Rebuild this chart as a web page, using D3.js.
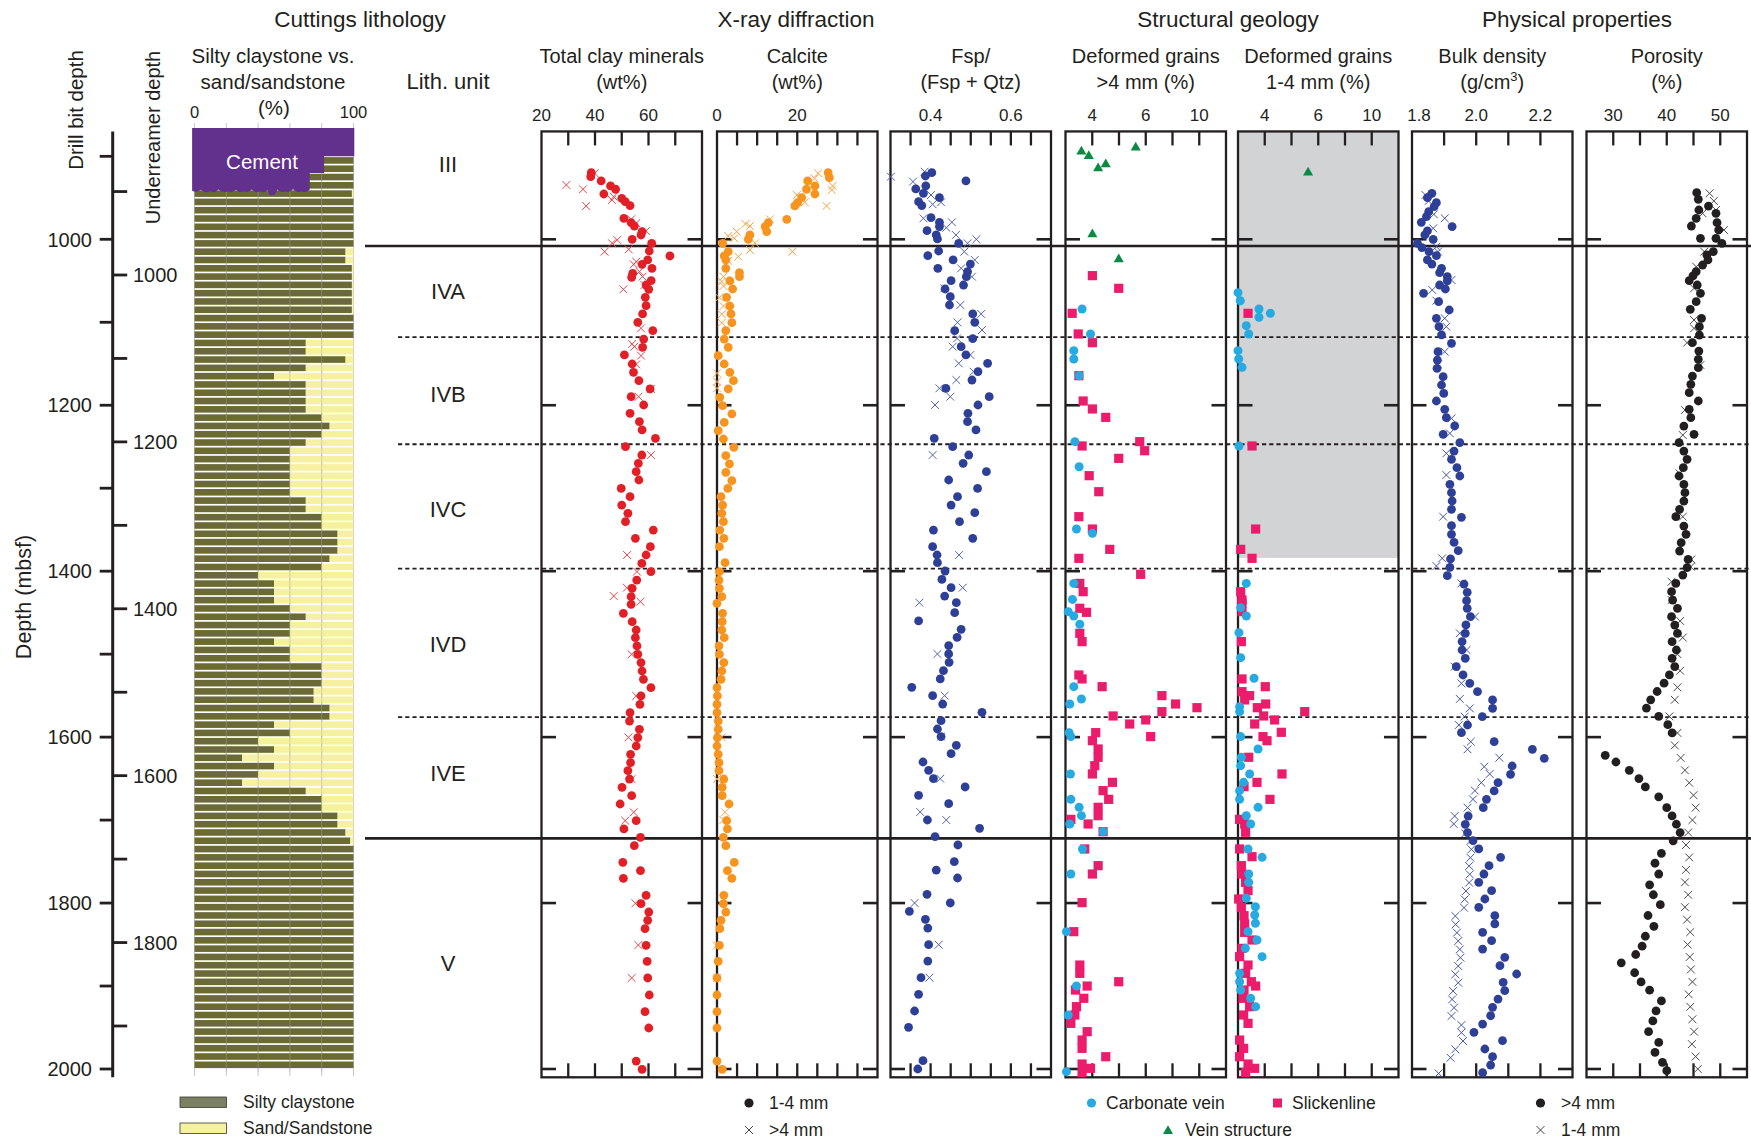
<!DOCTYPE html>
<html>
<head>
<meta charset="utf-8">
<title>Cuttings lithology, XRD, structural geology and physical properties</title>
<script src="https://d3js.org/d3.v7.min.js"></script>
<style>
  html, body { margin: 0; padding: 0; background: #fff; }
  svg { display: block; }
</style>
</head>
<body>
<svg id="chart" width="1751" height="1142"></svg>
<script>
// ---------------- data ----------------
// depth range of the logs (mbsf, drill bit depth)
const depthRange = [870, 2010];
const drillBitTicks = [900, 1000, 1100, 1200, 1300, 1400, 1500, 1600, 1700, 1800, 1900, 2000];
const drillBitLabels = [1000, 1200, 1400, 1600, 1800, 2000];
const underreamerTicks = [900, 1000, 1100, 1200, 1300, 1400, 1500, 1600, 1700, 1800, 1900];
const underreamerLabels = [1000, 1200, 1400, 1600, 1800];
const panelDepthTicks = [1000, 1200, 1400, 1600, 1800, 2000];

// lithologic units
const unitNames = ["III", "IVA", "IVB", "IVC", "IVD", "IVE", "V"];
const unitLabelDepths = [909, 1063, 1186, 1325, 1488, 1643, 1872];
const unitBoundaries = [1008, 1118, 1247, 1397, 1576, 1722];
const unitBoundaryStyle = ["solid", "dashed", "dashed", "dashed", "dashed", "solid"];

// cuttings: 10 m intervals, silty claystone percentage (remainder = sand/sandstone)
const cuttingsTop = 900;
const cuttingsStep = 10;
const claystonePct = [
  100, 100, 100, 100, 99, 100, 100, 100, 100, 100, 100, 95, 95, 99, 99,
  99, 99, 99, 99, 100, 100, 100,
  70, 70, 95, 70, 50, 70, 70, 70, 70,
  80, 85, 80, 70,
  60, 60, 60, 60, 60, 60,
  70, 70, 80, 80, 90, 90, 90, 85, 80,
  40, 50, 50, 50, 60, 70, 60, 60, 50, 60, 60,
  80, 80, 80, 75, 75, 85, 85, 50, 60, 40, 50, 30, 50, 40, 30, 70, 80, 80, 90, 90, 95, 98,
  100, 100, 100, 100, 100, 100, 100, 100, 100, 100, 100, 100, 100, 100, 100, 100, 100, 100,
  100, 100, 100, 100, 100, 100, 100, 100, 100
];
// cement filling the top of the hole: [depth, extent %]
const cementSteps = [[866, 100.5], [900, 81.5], [920, 72.5]];
const cementBase = [[72.5, 940], [67, 942], [62, 939.8], [57, 942], [52, 940], [49, 946], [46, 940.5], [41, 942.2], [36, 940], [31, 942], [26, 940.3], [21, 942], [15, 940], [10, 942.2], [4, 940.2], [-1.5, 941.5]];

// XRD: [depth, value]; fine = 1-4 mm cuttings, coarse = >4 mm cuttings
const clayFine = [[919.7,38.6],[924.5,38.4],[929.7,42.3],[935.7,45.8],[939.7,47.7],[945.4,43.3],[950.6,50.0],[954.6,51.3],[959.4,53.1],[974.7,50.8],[979.9,53.5],[984,54.7],[990.8,57.6],[994.8,57.2],[1000,53.9],[1004.8,61.2],[1014.1,60.3],[1020.1,68.0],[1024.9,59.7],[1030.2,57.6],[1035,61.3],[1041,54.1],[1045.8,53.7],[1049.9,61.0],[1055.1,59.1],[1060.3,60.1],[1069.9,58.8],[1080,59.1],[1090,57.8],[1100.1,56.0],[1110.1,61.6],[1120.2,58.2],[1130.2,57.8],[1139.4,51.0],[1150.3,53.9],[1160.3,54.4],[1170.4,56.4],[1180.4,60.6],[1189.7,53.5],[1199.7,58.2],[1209.8,53.1],[1219.8,56.6],[1229.8,57.6],[1239.9,62.6],[1249.9,51.4],[1260,57.5],[1270,56.2],[1280.1,55.4],[1290.1,56.4],[1300.2,49.8],[1310.2,53.1],[1320.3,50.0],[1330.3,52.3],[1340.3,51.4],[1350.4,61.8],[1360.4,55.1],[1370.5,60.7],[1380.5,59.1],[1390.6,57.5],[1400.6,60.9],[1410.7,55.6],[1420.7,53.9],[1430.7,53.5],[1440,53.5],[1450.8,50.6],[1460.8,53.9],[1470.9,55.4],[1480.1,55.1],[1490.1,55.7],[1500.2,56.0],[1510.2,57.2],[1520.3,57.6],[1530.3,58.1],[1540.4,60.9],[1550.4,57.2],[1560.5,56.8],[1570.5,53.1],[1580.6,52.9],[1590.6,56.6],[1600.6,56.0],[1610.7,55.4],[1620.7,53.3],[1630.8,53.3],[1640.4,52.3],[1650.5,52.9],[1660.5,50.1],[1670.6,53.7],[1680.6,49.4],[1700.7,55.4],[1710.7,50.8],[1720.8,57.0],[1730.8,54.7],[1750.9,50.4],[1761,57.0],[1770.2,50.6],[1790.7,59.1],[1800.7,57.2],[1810.8,60.1],[1820.8,59.7],[1830.9,58.7],[1851,59.1],[1870.3,59.5],[1890.3,59.7],[1910.8,60.3],[1930.9,58.7],[1950.6,60.1],[1990.4,55.4],[2000.4,57.6]];
const clayCoarse = [[934.5,29.3],[939.7,35.5],[959.8,36.7],[920.5,39.9],[952.6,46.3],[948.6,47.0],[975.9,53.5],[980.7,55.4],[990,59.1],[1000.8,48.3],[1004.8,46.4],[1014.9,43.6],[1012.1,52.6],[1027,55.4],[1030.2,54.5],[1039,56.6],[1045,57.8],[1055.1,58.5],[1060.3,50.6],[1107.3,57.2],[1126.2,53.9],[1129.4,54.7],[1140.2,57.2],[1150.7,55.4],[1189.7,56.3],[1180.4,60.9],[1260,60.9],[1380.5,52.0],[1400.6,55.7],[1419.9,51.9],[1430,47.0],[1436.8,57.0],[1500.2,53.7],[1550.4,55.4],[1600.3,52.5],[1650.5,53.7],[1690.6,54.5],[1700.7,51.3],[1800.3,55.1],[1850.6,56.2],[1890.3,53.7]];

const calciteFine = [[919.7,27.7],[925.7,28.0],[929.7,22.6],[935.7,24.4],[939.7,22.3],[945.4,24.4],[949.8,21.1],[955.8,20.1],[959.8,19.4],[975.9,17.4],[979.9,12.8],[984.7,12.0],[990.8,12.4],[994.8,8.2],[1000,7.8],[1004.8,1.4],[1014.9,2.8],[1020.1,1.8],[1024.9,2.2],[1035,2.2],[1040.2,5.6],[1045,5.6],[1050.2,3.2],[1059.9,3.9],[1069.9,2.4],[1080.4,3.2],[1090,3.5],[1100.5,3.7],[1110.1,2.2],[1120.2,1.8],[1130.2,2.8],[1140.3,0.3],[1150.3,1.8],[1160.3,3.2],[1170.4,4.1],[1180.4,2.8],[1190.5,0.7],[1200.5,1.4],[1210.5,3.7],[1220.6,1.8],[1230.7,0.3],[1240.7,1.6],[1250.7,4.2],[1260.8,2.2],[1270.8,3.1],[1280.9,2.2],[1290.9,3.7],[1300.2,2.7],[1310.2,1.0],[1320.3,1.4],[1330.3,1.2],[1340.3,1.6],[1350.4,0.7],[1360.4,1.7],[1370.5,0.6],[1389.8,2.0],[1400.6,0.6],[1410.7,0.5],[1420.7,0.6],[1430.7,1.2],[1438.8,0.0],[1450.8,1.4],[1460.8,1.3],[1470.9,1.2],[1480.1,1.8],[1490.1,0.5],[1500.2,0.6],[1510.2,1.7],[1520.3,1.2],[1530.3,1.0],[1540.4,0.0],[1550.4,0.1],[1560.5,0.0],[1570.5,0.0],[1580.6,0.3],[1590.6,0.3],[1600.6,0.1],[1610.7,0.0],[1620.7,0.3],[1630.8,0.5],[1640.4,0.5],[1650.5,1.7],[1660.5,1.3],[1670.6,1.3],[1680.6,3.0],[1700.7,2.4],[1710.7,2.6],[1720.8,1.6],[1730.8,2.2],[1750.9,4.3],[1761,2.6],[1770.2,3.7],[1790.7,1.7],[1800.7,1.6],[1810.8,2.2],[1820.8,1.0],[1830.9,0.7],[1851,0.6],[1870.3,0.3],[1890.3,0.0],[1910.8,0.0],[1930.9,0.0],[1950.6,0.0],[1990.4,0.0],[2000.4,1.3]];
const calciteCoarse = [[920.5,25.2],[926.5,24.3],[935.7,28.8],[940.6,28.6],[946.6,19.9],[955.4,21.9],[959.8,27.3],[975.9,13.2],[981.5,7.1],[984,8.2],[990.8,4.9],[996,2.8],[998.8,4.3],[1004.8,9.5],[1012.9,8.2],[1014.9,18.8],[1020.9,5.3],[1026.1,2.8],[1045,1.6],[1051,1.2],[1056.3,1.6],[1070.3,0.6],[1080.4,1.6],[1090.4,1.2],[1100.5,1.2],[1161.5,0.0],[1171.6,0.0],[1179.6,0.0],[1600.3,1.2],[1650.5,0.0],[1690.6,2.0],[1699.9,1.6],[1851,0.0],[1890.3,0.0]];

const fspFine = [[919.7,0.403],[923.7,0.387],[929.7,0.488],[935.7,0.388],[939.3,0.363],[944.6,0.382],[949.8,0.422],[954.6,0.370],[959.4,0.378],[973.9,0.401],[979.5,0.422],[984.7,0.422],[989.6,0.391],[994.8,0.414],[999.6,0.417],[1004.8,0.470],[1014.1,0.420],[1019.7,0.393],[1024.9,0.456],[1029.8,0.499],[1035,0.418],[1039,0.492],[1045,0.489],[1049.9,0.451],[1055.1,0.482],[1059.9,0.436],[1069.1,0.449],[1079.2,0.447],[1090,0.505],[1100.1,0.510],[1110.1,0.460],[1119.8,0.505],[1129.4,0.476],[1139.4,0.488],[1149.5,0.542],[1159.5,0.518],[1169.6,0.503],[1179.6,0.438],[1189.7,0.546],[1199.7,0.518],[1209.8,0.493],[1219.8,0.492],[1229.8,0.513],[1239.9,0.409],[1249.9,0.455],[1260,0.495],[1270,0.481],[1280.1,0.539],[1290.1,0.445],[1300.2,0.517],[1310.2,0.467],[1320.3,0.451],[1329.5,0.510],[1340.3,0.472],[1350.4,0.407],[1360.4,0.505],[1370.5,0.405],[1380.5,0.416],[1389.8,0.417],[1399.8,0.436],[1409.9,0.428],[1419.9,0.451],[1430,0.435],[1438,0.464],[1450,0.460],[1460,0.370],[1470.1,0.476],[1479.7,0.466],[1489.7,0.445],[1499.8,0.445],[1509.8,0.446],[1519.9,0.432],[1529.9,0.424],[1540,0.353],[1550,0.405],[1560.1,0.430],[1570.1,0.528],[1580.2,0.426],[1590.2,0.417],[1599.4,0.426],[1609.9,0.464],[1619.9,0.451],[1630,0.381],[1640,0.395],[1650.1,0.407],[1660.1,0.486],[1670.2,0.370],[1680.2,0.445],[1699.9,0.392],[1709.9,0.522],[1720,0.411],[1730,0.468],[1750.1,0.459],[1760.2,0.414],[1769.8,0.467],[1789.5,0.391],[1799.9,0.449],[1810,0.347],[1819.6,0.387],[1830.1,0.393],[1850.2,0.395],[1869.9,0.393],[1889.9,0.376],[1910,0.370],[1930.1,0.360],[1949.8,0.345],[1990,0.381],[2000,0.368]];
const fspCoarse = [[924.5,0.301],[930.5,0.356],[918.5,0.385],[946.6,0.401],[957.8,0.405],[955.4,0.426],[974.7,0.382],[986,0.439],[979.5,0.453],[994.8,0.463],[1004.8,0.492],[1000,0.514],[1014.9,0.484],[1024.9,0.510],[1035,0.476],[1045,0.503],[1059.1,0.434],[1079.2,0.474],[1090,0.526],[1100.1,0.467],[1109.3,0.528],[1119.4,0.466],[1129.4,0.455],[1139.4,0.499],[1149.5,0.470],[1159.5,0.507],[1169.6,0.464],[1179.6,0.422],[1189.7,0.449],[1199.7,0.411],[1260,0.405],[1380.5,0.471],[1419.9,0.480],[1438,0.372],[1499.8,0.417],[1550,0.435],[1599.4,0.426],[1650.1,0.424],[1690.2,0.374],[1699.9,0.439],[1799.9,0.360],[1850.2,0.420],[1889.9,0.397]];

// structural geology: deformed grains [depth, value]
const veinLarge = [[894.3,1.19],[899.6,1.74],[889.5,5.25],[909.6,3.01],[914.4,2.44],[994,2.01],[1024.1,3.98]];
const veinSmall = [[919.7,5.24]];
const carbonateLarge = [[1084,1.24],[1114.1,1.87],[1134.2,0.62],[1144.3,0.62],[1164.4,1.02],[1243.9,0.70],[1274.1,1.02],[1349.2,0.82],[1354.4,2.01],[1414.7,0.62],[1434,0.52],[1448.8,0.20],[1454,0.62],[1464,1.07],[1539.2,0.62],[1554,1.19],[1560.1,0.32],[1594.6,0.27],[1599.4,0.40],[1644.4,0.37],[1675,0.40],[1684.6,1.02],[1694.7,1.19],[1704.7,0.32],[1714,2.81],[1734.8,1.27],[1765,0.40],[1834.5,0.07],[1900,0.82],[1934.9,0.20],[2003.2,0.07]];
const slickenLarge = [[1043.8,2.01],[1059.1,3.98],[1089.2,0.50],[1114.1,0.95],[1124.6,2.01],[1164.4,1.0],[1194.9,1.32],[1204.5,2.01],[1214.6,3.01],[1243.9,5.55],[1249.1,1.24],[1254.8,5.92],[1264,3.98],[1284.9,1.77],[1304.2,2.49],[1334.3,1.0],[1349.2,2.01],[1373.7,3.31],[1384.5,1.0],[1403.8,5.62],[1414.7,1.07],[1424.7,1.32],[1444.7,1.07],[1449.6,1.57],[1474.9,1.07],[1484.9,1.24],[1525.1,1.0],[1529.9,1.24],[1539.2,2.74],[1550,7.21],[1560.1,8.23],[1564.5,9.83],[1569.3,7.21],[1574.5,3.56],[1584.2,4.80],[1579.3,6.00],[1599.4,6.37],[1594.6,2.26],[1604.3,2.01],[1614.3,2.44],[1624.3,2.44],[1634.4,2.19],[1644.4,2.01],[1654.5,3.51],[1664.5,2.81],[1675,3.23],[1684.6,2.44],[1694.7,2.44],[1699.1,0.40],[1704.7,1.69],[1714,2.81],[1734.8,1.44],[1754.9,2.44],[1765,2.01],[1799.5,1.24],[1834.5,0.62],[1874.7,1.07],[1884.7,1.07],[1894.8,3.98],[1900,1.62],[1904.8,0.75],[1914.8,1.37],[1924.9,0.82],[1934.9,0.70],[1945,0.40],[1955,1.62],[1965.1,1.24],[1975.1,1.24],[1985.2,3.01],[1994,1.24],[1999.2,1.87],[2004.4,1.24]];
const carbonateSmall = [[1064.3,0],[1074,0.17],[1084,1.57],[1089.2,2.42],[1094,1.57],[1104.1,0.62],[1114.1,0.80],[1134.2,0],[1144.3,0.05],[1154.3,0.30],[1249.1,0.07],[1414.7,0.62],[1444,0.2],[1454,0.62],[1474.1,0.07],[1504.2,0.2],[1529.1,1.2],[1563.3,0.12],[1569.3,0.12],[1599.4,0.2],[1614.3,1.5],[1624.3,0.25],[1634.4,0.2],[1644.4,0.87],[1654.5,0.42],[1664.5,0.12],[1675,0.12],[1684.6,1.5],[1694.7,0.62],[1704.7,0.95],[1734.8,0.75],[1744.9,1.8],[1765,0.8],[1775,0.8],[1794.3,0.62],[1804.4,1.3],[1814.4,1.25],[1824.4,1.3],[1834.5,0.75],[1844.5,1.42],[1854.6,0.55],[1864.6,1.8],[1884.7,0.12],[1894.8,0.12],[1904.8,0.2],[1914.8,0.95],[1924.9,1.32]];
const slickenSmall = [[1089.2,0.75],[1249.1,1.05],[1349.2,1.32],[1373.7,0.20],[1384.5,1.05],[1424.7,0.20],[1434.7,0.30],[1438.7,0.3],[1448.8,0.3],[1484.9,0.25],[1529.9,0.3],[1539.2,2.04],[1545.2,0.3],[1550,0.87],[1555.2,0.5],[1560.1,2.07],[1564.5,1.45],[1569.3,4.99],[1574.5,1.92],[1579.3,2.74],[1584.2,1.25],[1594.2,3.24],[1599.4,1.87],[1604.3,2.17],[1624.3,0.8],[1644.4,3.29],[1654.5,1.42],[1659.7,0.45],[1675,2.39],[1699.1,0.12],[1704.7,0.5],[1714.7,0.57],[1734.8,0.12],[1744.1,1.05],[1754.9,0.25],[1765,0.3],[1775,0.57],[1785.1,0.75],[1795.1,0.05],[1805.2,0.25],[1815.2,0.45],[1825.2,0.5],[1835.3,0.5],[1844.5,1.05],[1854.6,0.3],[1864.6,0.12],[1874.7,0.75],[1884.7,0.57],[1894.8,1.0],[1900,1.32],[1904.8,0.45],[1914.8,0.37],[1924.9,0.87],[1934.9,0.42],[1945,0.75],[1965.1,0.12],[1975.1,0.42],[1985.2,0.12],[1994,0.75],[1999.2,1.25],[2004.4,0.57]];
// no 1-4 mm structural observations above this depth
const smallGrainGap = [870, 1384];

// physical properties: coarse = >4 mm cuttings, fine = 1-4 mm cuttings
const densityCoarse = [[944.6,1.862],[949.8,1.848],[955.8,1.876],[960.6,1.869],[966.7,1.852],[972.7,1.845],[979.5,1.829],[984.7,1.925],[989.9,1.848],[994.8,1.840],[1000,1.866],[1004.8,1.817],[1010.1,1.831],[1014.9,1.853],[1019.7,1.876],[1024.9,1.848],[1029.8,1.862],[1035,1.892],[1040.2,1.886],[1045,1.910],[1050.2,1.910],[1055.1,1.886],[1059.9,1.904],[1065.1,1.836],[1075.2,1.883],[1085.2,1.916],[1095.2,1.876],[1105.3,1.884],[1115.3,1.892],[1125.4,1.923],[1135.4,1.881],[1145.5,1.879],[1155.5,1.878],[1165.6,1.897],[1175.6,1.892],[1185.7,1.899],[1194.9,1.876],[1204.9,1.902],[1215,1.907],[1225,1.933],[1235.1,1.897],[1245.1,1.949],[1255.2,1.931],[1265.2,1.923],[1275.3,1.940],[1285.3,1.949],[1295.3,1.918],[1305.4,1.923],[1315.4,1.925],[1325.5,1.923],[1335.1,1.954],[1345.2,1.923],[1355.6,1.923],[1365.3,1.931],[1375.3,1.944],[1385.3,1.920],[1395.4,1.918],[1405.4,1.910],[1415.5,1.962],[1425.5,1.972],[1435.6,1.970],[1444.7,1.972],[1454.8,1.982],[1464.8,1.968],[1474.9,1.966],[1484.9,1.956],[1495,1.956],[1505,1.966],[1515.1,1.938],[1525.1,1.959],[1535.2,1.980],[1545.2,2.004],[1555.2,2.051],[1565.3,2.051],[1575.3,2.019],[1585.4,1.973],[1594.6,1.954],[1605.5,2.056],[1614.7,2.175],[1625.6,2.212],[1634.8,2.112],[1644.8,2.107],[1654.9,2.068],[1664.9,2.056],[1675,2.032],[1685,2.022],[1695.1,1.975],[1705.1,1.966],[1715.2,1.973],[1724.8,1.990],[1734.8,2.008],[1744.9,2.076],[1754.9,2.040],[1765,2.024],[1775,2.008],[1785.1,2.048],[1795.1,2.027],[1805.2,2.008],[1815.2,2.058],[1825.2,2.058],[1835.3,2.020],[1845.3,2.048],[1855.4,2.020],[1865.4,2.089],[1875.5,2.074],[1885.5,2.126],[1895.6,2.084],[1905.6,2.089],[1915.7,2.068],[1925.7,2.051],[1935.8,2.045],[1945.8,2.020],[1955.8,1.993],[1965.9,2.082],[1975.9,2.027],[1985.2,2.051],[1995.2,2.045],[2004.5,2.020]];
const densityFine = [[946.6,1.842],[953.8,1.852],[969.9,1.868],[974.7,1.902],[986.8,1.866],[1008.9,1.876],[1014.9,1.881],[1049,1.923],[1061.1,1.863],[1074,1.876],[1095.2,1.902],[1105.3,1.907],[1135.4,1.902],[1150.7,1.881],[1215.8,1.923],[1233.9,1.918],[1258,1.907],[1284.1,1.907],[1334.3,1.897],[1384.5,1.894],[1393.8,1.876],[1414.7,1.954],[1454.8,1.996],[1474.9,1.949],[1495,1.970],[1515.1,1.933],[1535.2,1.954],[1554,1.949],[1565.3,1.980],[1575.3,1.964],[1585.4,1.946],[1605.5,1.983],[1614.7,1.973],[1624.8,2.072],[1635.6,2.025],[1644.4,2.042],[1654.9,2.016],[1664.5,1.996],[1675,1.990],[1685,1.973],[1695.1,1.933],[1704.7,1.930],[1716,1.966],[1725.2,1.982],[1735.2,1.985],[1745.3,1.982],[1755.3,1.978],[1765.4,1.980],[1775.4,1.978],[1785.5,1.968],[1795.5,1.964],[1805.6,1.962],[1815.6,1.935],[1825.7,1.936],[1835.7,1.940],[1845.7,1.944],[1855.8,1.949],[1865.8,1.951],[1875.9,1.944],[1885.9,1.935],[1896,1.944],[1906,1.928],[1916.1,1.925],[1926.1,1.931],[1936.2,1.923],[1947,1.954],[1956.2,1.954],[1966.3,1.959],[1976.3,1.935],[1986.4,1.920],[2005.3,1.883]];

const porosityCoarse = [[943.8,45.6],[951.8,45.9],[964.7,46.0],[959.9,47.8],[968.7,49.2],[974.7,45.5],[984,44.6],[980,49.4],[988.8,49.7],[998.8,46.3],[998.8,49.2],[1004.9,50.3],[1014.9,48.7],[1018.9,47.5],[1024.9,47.7],[1031,46.7],[1039,45.5],[1044.2,44.9],[1049.9,44.2],[1055.1,45.7],[1065.1,46.3],[1075.2,45.5],[1084.4,44.4],[1095.3,46.5],[1105.3,46.1],[1115.4,46.1],[1124.6,44.8],[1134.7,46.0],[1144.7,45.9],[1154.7,45.9],[1164.8,44.8],[1174.8,44.5],[1184.9,44.2],[1194.9,45.9],[1205,44.2],[1215,44.5],[1225.1,43.2],[1235.1,45.1],[1245.1,42.3],[1255.2,43.2],[1265.2,43.8],[1275.3,43.1],[1285.3,42.3],[1295.4,43.2],[1305.4,43.4],[1315.5,43.2],[1325.5,42.4],[1334.3,41.7],[1345.6,43.2],[1355.6,43.6],[1365.7,42.7],[1375.7,42.4],[1385.8,44.0],[1395.8,43.8],[1404.7,43.0],[1414.7,41.7],[1424.7,40.9],[1434.8,41.1],[1444.8,42.0],[1454.9,40.9],[1465,41.5],[1475,42.0],[1485,41.0],[1495,41.8],[1505,41.0],[1515,41.5],[1525,40.5],[1535,39.5],[1545,38.2],[1555,37.0],[1565,36.2],[1575,38.5],[1585,40.2],[1595,41.0],[1622,28.5],[1630,30.5],[1640,33.0],[1650,34.8],[1660,36.0],[1672,38.5],[1685,40.0],[1695,41.0],[1705,41.8],[1715,42.5],[1725,41.2],[1740,39.0],[1752,37.8],[1765,38.5],[1778,36.8],[1790,37.5],[1802,38.8],[1815,36.5],[1828,37.6],[1840,36.0],[1852,35.4],[1862,34.2],[1872,31.5],[1884,34.0],[1895,35.2],[1905,36.8],[1918,39.0],[1930,38.0],[1942,37.4],[1955,36.6],[1968,38.5],[1980,37.8],[1992,39.2],[2002,40.0]];
const porosityFine = [[944.6,48.0],[953.8,48.8],[968.7,46.7],[964.7,49.2],[988.8,50.7],[1014.9,47.0],[1033,45.5],[1059.1,45.1],[1097.3,45.1],[1107.3,45.1],[1124.6,43.8],[1151.5,46.3],[1205.8,43.4],[1235.9,43.0],[1282.1,42.4],[1334.3,43.0],[1385.8,44.6],[1394.6,44.5],[1412.7,40.9],[1434.8,40.9],[1460,42.5],[1480,43.0],[1500,42.0],[1520,42.5],[1540,42.0],[1555,41.5],[1575,40.5],[1595,42.0],[1610,41.5],[1625,42.6],[1640,43.4],[1655,44.2],[1670,45.0],[1685,45.4],[1700,44.8],[1715,44.0],[1730,43.6],[1745,44.2],[1760,43.6],[1775,43.4],[1790,44.0],[1805,43.4],[1820,43.8],[1835,44.4],[1850,43.9],[1865,44.3],[1880,44.5],[1895,44.8],[1910,44.1],[1925,44.4],[1940,44.8],[1955,45.1],[1970,44.7],[1985,45.4],[2000,45.8]];

// axis settings of the log panels
const clayDomain = [20, 80], clayTicks = [30, 40, 50, 60, 70], clayTickLabels = [20, 40, 60];
const calciteDomain = [0, 40], calciteTicks = [5, 10, 15, 20, 25, 30, 35], calciteTickLabels = [0, 20];
const fspDomain = [0.3, 0.7], fspTicks = [0.35, 0.4, 0.45, 0.5, 0.55, 0.6, 0.65], fspTickLabels = [0.4, 0.6];
const deformDomain = [0, 12], deformTicks = [2, 4, 6, 8, 10], deformLabelAt = [2, 6, 10], deformLabelText = ["4", "6", "10"];
const densityDomain = [1.8, 2.3], densityTicks = [1.9, 2.0, 2.1, 2.2], densityTickLabels = [1.8, 2.0, 2.2];
const porosityDomain = [25, 55], porosityTicks = [30, 35, 40, 45, 50], porosityTickLabels = [30, 40, 50];
const lithPctDomain = [0, 100], lithGrid = [0, 20, 40, 60, 80, 100], lithTickLabels = [0, 100];

const groupTitles = ["Cuttings lithology", "X-ray diffraction", "Structural geology", "Physical properties"];

// ---------------- drawing ----------------
const svg = d3.select("#chart");
const FONT = "'Liberation Sans', Arial, Helvetica, sans-serif";
const INK = "#231f20";
const C = {
  clay: "#e11f26", calcite: "#f7941d", fsp: "#2e3f98", density: "#2e3f98",
  porosity: "#231f20", carbonate: "#27aae1", slicken: "#ec1c6c", vein: "#0b8a43",
  claystone: "#6b6a36", sand: "#f6f1a1", cement: "#62308d", shade: "#d1d3d4"
};

const yDepth = d3.scaleLinear().domain([1000, 2000]).range([239.3, 1069]);
const yUnder = d3.scaleLinear().domain([1000, 1900]).range([275, 1026]);
const Y0 = yDepth(depthRange[0]), Y1 = yDepth(depthRange[1]);

function label(g, x, y, str, size, anchor, extra) {
  const t = g.append("text").attr("x", x).attr("y", y).attr("font-family", FONT)
    .attr("font-size", size).attr("text-anchor", anchor || "middle").attr("fill", INK).text(str);
  if (extra) extra(t);
  return t;
}

// ---- group titles
const titleX = [360, 796, 1228, 1577];
groupTitles.forEach((s, i) => label(svg, titleX[i], 27, s, 22.5));

// ---- depth axes (drill bit + underreamer)
const axisX = 112.7;
const axG = svg.append("g").attr("stroke", INK);
axG.append("line").attr("x1", axisX).attr("x2", axisX).attr("y1", Y0).attr("y2", Y1).attr("stroke-width", 3);
drillBitTicks.forEach(d => axG.append("line").attr("x1", axisX - 13).attr("x2", axisX)
  .attr("y1", yDepth(d)).attr("y2", yDepth(d)).attr("stroke-width", 2.8));
underreamerTicks.forEach(d => axG.append("line").attr("x1", axisX).attr("x2", axisX + 14.5)
  .attr("y1", yUnder(d)).attr("y2", yUnder(d)).attr("stroke-width", 2.8));
drillBitLabels.forEach(d => label(svg, 92, yDepth(d), d, 20, "end", t => t.attr("dy", "0.36em")));
underreamerLabels.forEach(d => label(svg, 133, yUnder(d), d, 20, "start", t => t.attr("dy", "0.36em")));

function vlabel(cx, cy, str, size) {
  svg.append("text").attr("transform", `translate(${cx},${cy}) rotate(-90)`)
    .attr("font-family", FONT).attr("font-size", size).attr("text-anchor", "middle")
    .attr("dy", "0.36em").attr("fill", INK).text(str);
}
vlabel(23, 597, "Depth (mbsf)", 21.5);
vlabel(76, 110, "Drill bit depth", 20.5);
vlabel(152.5, 137.5, "Underreamer depth", 20);

// ---- cuttings lithology column
const lithX = d3.scaleLinear().domain(lithPctDomain).range([194.5, 353.5]);
const lithG = svg.append("g");
lithGrid.forEach(v => lithG.append("line").attr("x1", lithX(v)).attr("x2", lithX(v))
  .attr("y1", 123).attr("y2", 1076).attr("stroke", "#c6c6c6").attr("stroke-width", 1));
const cuttings = claystonePct.map((p, i) => ({ top: cuttingsTop + i * cuttingsStep, clay: p }));
lithG.selectAll("rect.cl").data(cuttings).join("rect").attr("class", "cl")
  .attr("x", lithX(0)).attr("width", d => lithX(d.clay) - lithX(0))
  .attr("y", d => yDepth(d.top) + 0.8).attr("height", d => yDepth(d.top + cuttingsStep) - yDepth(d.top) - 1.7)
  .attr("fill", C.claystone);
lithG.selectAll("rect.sd").data(cuttings.filter(d => d.clay < 100)).join("rect").attr("class", "sd")
  .attr("x", d => lithX(d.clay)).attr("width", d => lithX(100) - lithX(d.clay))
  .attr("y", d => yDepth(d.top) + 0.8).attr("height", d => yDepth(d.top + cuttingsStep) - yDepth(d.top) - 1.7)
  .attr("fill", C.sand);
lithGrid.slice(1, 5).forEach(v => lithG.append("line").attr("x1", lithX(v)).attr("x2", lithX(v))
  .attr("y1", yDepth(cuttingsTop)).attr("y2", 1072).attr("stroke", "#a9a9a0").attr("stroke-opacity", 0.45).attr("stroke-width", 1));

// cement plug
{
  const p = d3.path();
  p.moveTo(lithX(-1.5), yDepth(cementSteps[0][0]));
  p.lineTo(lithX(cementSteps[0][1]), yDepth(cementSteps[0][0]));
  for (let i = 1; i < cementSteps.length; i++) {
    p.lineTo(lithX(cementSteps[i - 1][1]), yDepth(cementSteps[i][0]));
    p.lineTo(lithX(cementSteps[i][1]), yDepth(cementSteps[i][0]));
  }
  const edge = cementBase.map(([v, d]) => [lithX(v), yDepth(d)]);
  p.lineTo(edge[0][0], edge[0][1]);
  for (let i = 1; i < edge.length; i++) {
    const mx = (edge[i - 1][0] + edge[i][0]) / 2;
    p.quadraticCurveTo(mx, Math.max(edge[i - 1][1], edge[i][1]) + 2.5, edge[i][0], edge[i][1]);
  }
  p.closePath();
  lithG.append("path").attr("d", p.toString()).attr("fill", C.cement);
  label(lithG, 262, 168.5, "Cement", 20.5, "middle", t => t.attr("fill", "#fff"));
}
label(svg, 273, 63, "Silty claystone vs.", 20.5);
label(svg, 273, 89, "sand/sandstone", 20.5);
label(svg, 274, 115, "(%)", 20.5);
lithTickLabels.forEach(v => label(svg, lithX(v), 118, v, 16.5));

// ---- lith. unit labels and boundaries
label(svg, 448, 89, "Lith. unit", 22);
unitNames.forEach((u, i) => label(svg, 448, yDepth(unitLabelDepths[i]), u, 22, "middle", t => t.attr("dy", "0.36em")));

// ---- log panels
const PW = 160.5;
const panels = [
  { id: "clay", left: 541.5, domain: clayDomain, ticks: clayTicks, labels: clayTickLabels.map(v => [v, String(v)]), title: ["Total clay minerals", "(wt%)"] },
  { id: "calcite", left: 717, domain: calciteDomain, ticks: calciteTicks, labels: calciteTickLabels.map(v => [v, String(v)]), title: ["Calcite", "(wt%)"] },
  { id: "fsp", left: 890.5, domain: fspDomain, ticks: fspTicks, labels: fspTickLabels.map(v => [v, d3.format(".1f")(v)]), title: ["Fsp/", "(Fsp + Qtz)"] },
  { id: "defL", left: 1065.5, domain: deformDomain, ticks: deformTicks, labels: deformLabelAt.map((v, i) => [v, deformLabelText[i]]), title: ["Deformed grains", ">4 mm (%)"] },
  { id: "defS", left: 1238, domain: deformDomain, ticks: deformTicks, labels: deformLabelAt.map((v, i) => [v, deformLabelText[i]]), title: ["Deformed grains", "1-4 mm (%)"], shade: smallGrainGap },
  { id: "dens", left: 1412, domain: densityDomain, ticks: densityTicks, labels: densityTickLabels.map(v => [v, d3.format(".1f")(v)]), title: ["Bulk density", "(g/cm3)"] },
  { id: "poro", left: 1586.5, domain: porosityDomain, ticks: porosityTicks, labels: porosityTickLabels.map(v => [v, String(v)]), title: ["Porosity", "(%)"] }
];
const X = {};
panels.forEach(p => { X[p.id] = d3.scaleLinear().domain(p.domain).range([p.left, p.left + PW]); });

// shading behind 1-4 mm structural data
panels.filter(p => p.shade).forEach(p => {
  svg.append("rect").attr("x", p.left).attr("y", yDepth(p.shade[0])).attr("width", PW)
    .attr("height", yDepth(p.shade[1]) - yDepth(p.shade[0])).attr("fill", C.shade);
});

// unit boundary lines
const bndG = svg.append("g");
unitBoundaries.forEach((d, i) => {
  const solid = unitBoundaryStyle[i] === "solid";
  bndG.append("line").attr("x1", solid ? 365 : 398).attr("x2", 1751)
    .attr("y1", yDepth(d)).attr("y2", yDepth(d)).attr("stroke", INK)
    .attr("stroke-width", solid ? 2.6 : 1.8).attr("stroke-dasharray", solid ? null : "4.2,3");
});

// frames, ticks, headers
panels.forEach(p => {
  const x = X[p.id];
  const g = svg.append("g").attr("stroke", INK).attr("fill", "none");
  g.append("rect").attr("x", p.left).attr("y", Y0).attr("width", PW).attr("height", Y1 - Y0).attr("stroke-width", 2.3);
  p.ticks.forEach(t => {
    g.append("line").attr("x1", x(t)).attr("x2", x(t)).attr("y1", Y0).attr("y2", Y0 + 14).attr("stroke-width", 2.3);
    g.append("line").attr("x1", x(t)).attr("x2", x(t)).attr("y1", Y1).attr("y2", Y1 - 14).attr("stroke-width", 2.3);
  });
  panelDepthTicks.forEach(d => {
    g.append("line").attr("x1", p.left).attr("x2", p.left + 14.5).attr("y1", yDepth(d)).attr("y2", yDepth(d)).attr("stroke-width", 2.6);
    g.append("line").attr("x1", p.left + PW - 14.5).attr("x2", p.left + PW).attr("y1", yDepth(d)).attr("y2", yDepth(d)).attr("stroke-width", 2.6);
  });
  p.labels.forEach(([v, s]) => {
    const dx = (p.id === "dens" && v === p.domain[0]) ? 7 : 0;
    label(svg, x(v) + dx, 121, s, 17);
  });
  const cx = p.left + PW / 2;
  label(svg, cx, 63, p.title[0], 20);
  if (p.id === "dens") {
    label(svg, cx, 89, "(g/cm", 20, "middle", t => {
      t.text("(g/cm");
      t.append("tspan").attr("dy", -8).attr("font-size", 13).text("3");
      t.append("tspan").attr("dy", 8).text(")");
    });
  } else {
    label(svg, cx, 89, p.title[1], 20);
  }
});

// ---- markers
const markG = svg.append("g");
function dots(data, x, color, r) {
  markG.append("g").selectAll("circle").data(data).join("circle")
    .attr("cx", d => x(d[1])).attr("cy", d => yDepth(d[0])).attr("r", r || 4.4).attr("fill", color);
}
function crosses(data, x, color, a) {
  const s = a || 3.9;
  markG.append("g").selectAll("path").data(data).join("path")
    .attr("transform", d => `translate(${x(d[1])},${yDepth(d[0])})`)
    .attr("d", `M${-s},${-s}L${s},${s}M${-s},${s}L${s},${-s}`)
    .attr("stroke", color).attr("stroke-width", 1).attr("fill", "none");
}
function squares(data, x, color) {
  markG.append("g").selectAll("rect").data(data).join("rect")
    .attr("x", d => x(d[1]) - 4.6).attr("y", d => yDepth(d[0]) - 4.6)
    .attr("width", 9.2).attr("height", 9.2).attr("fill", color);
}
const tri = d3.symbol(d3.symbolTriangle, 44)();
function triangles(data, x, color) {
  markG.append("g").selectAll("path").data(data).join("path")
    .attr("transform", d => `translate(${x(d[1])},${yDepth(d[0])})`)
    .attr("d", tri).attr("fill", color);
}

crosses(clayCoarse, X.clay, "#e5434b");
dots(clayFine, X.clay, C.clay);
crosses(calciteCoarse, X.calcite, "#f7a043");
dots(calciteFine, X.calcite, C.calcite);
crosses(fspCoarse, X.fsp, "#5262ae");
dots(fspFine, X.fsp, C.fsp);

triangles(veinLarge, X.defL, C.vein);
squares(slickenLarge, X.defL, C.slicken);
dots(carbonateLarge, X.defL, C.carbonate, 4.5);
triangles(veinSmall, X.defS, C.vein);
squares(slickenSmall, X.defS, C.slicken);
dots(carbonateSmall, X.defS, C.carbonate, 4.5);

crosses(densityFine, X.dens, "#4656a9");
dots(densityCoarse, X.dens, C.density);
crosses(porosityFine, X.poro, "#4a4a4a");
dots(porosityCoarse, X.poro, C.porosity);

// ---- legends
const lg = svg.append("g");
lg.append("rect").attr("x", 180).attr("y", 1097).attr("width", 46.5).attr("height", 10.5)
  .attr("fill", "#7b8062").attr("stroke", "#3a3a30").attr("stroke-width", 0.8);
lg.append("rect").attr("x", 180).attr("y", 1123).attr("width", 46.5).attr("height", 10.5)
  .attr("fill", C.sand).attr("stroke", "#3a3a30").attr("stroke-width", 0.8);
label(lg, 243, 1102, "Silty claystone", 17.5, "start", t => t.attr("dy", "0.36em"));
label(lg, 243, 1128, "Sand/Sandstone", 17.5, "start", t => t.attr("dy", "0.36em"));

function legendDot(x, y, color) { lg.append("circle").attr("cx", x).attr("cy", y).attr("r", 4.6).attr("fill", color); }
function legendCross(x, y, color) {
  lg.append("path").attr("d", `M${x - 4},${y - 4}L${x + 4},${y + 4}M${x - 4},${y + 4}L${x + 4},${y - 4}`)
    .attr("stroke", color).attr("stroke-width", 1).attr("fill", "none");
}
legendDot(749, 1103, INK);
label(lg, 769, 1103, "1-4 mm", 17.5, "start", t => t.attr("dy", "0.36em"));
legendCross(749, 1130, "#444");
label(lg, 769, 1130, ">4 mm", 17.5, "start", t => t.attr("dy", "0.36em"));

legendDot(1091.5, 1103, C.carbonate);
label(lg, 1106, 1103, "Carbonate vein", 17.5, "start", t => t.attr("dy", "0.36em"));
lg.append("rect").attr("x", 1273).attr("y", 1098.5).attr("width", 9).attr("height", 9).attr("fill", C.slicken);
label(lg, 1292, 1103, "Slickenline", 17.5, "start", t => t.attr("dy", "0.36em"));
lg.append("path").attr("transform", "translate(1168,1131)").attr("d", tri).attr("fill", C.vein);
label(lg, 1185, 1130, "Vein structure", 17.5, "start", t => t.attr("dy", "0.36em"));

legendDot(1540.5, 1103, INK);
label(lg, 1561, 1103, ">4 mm", 17.5, "start", t => t.attr("dy", "0.36em"));
legendCross(1540.5, 1130, "#444");
label(lg, 1561, 1130, "1-4 mm", 17.5, "start", t => t.attr("dy", "0.36em"));
</script>
</body>
</html>
